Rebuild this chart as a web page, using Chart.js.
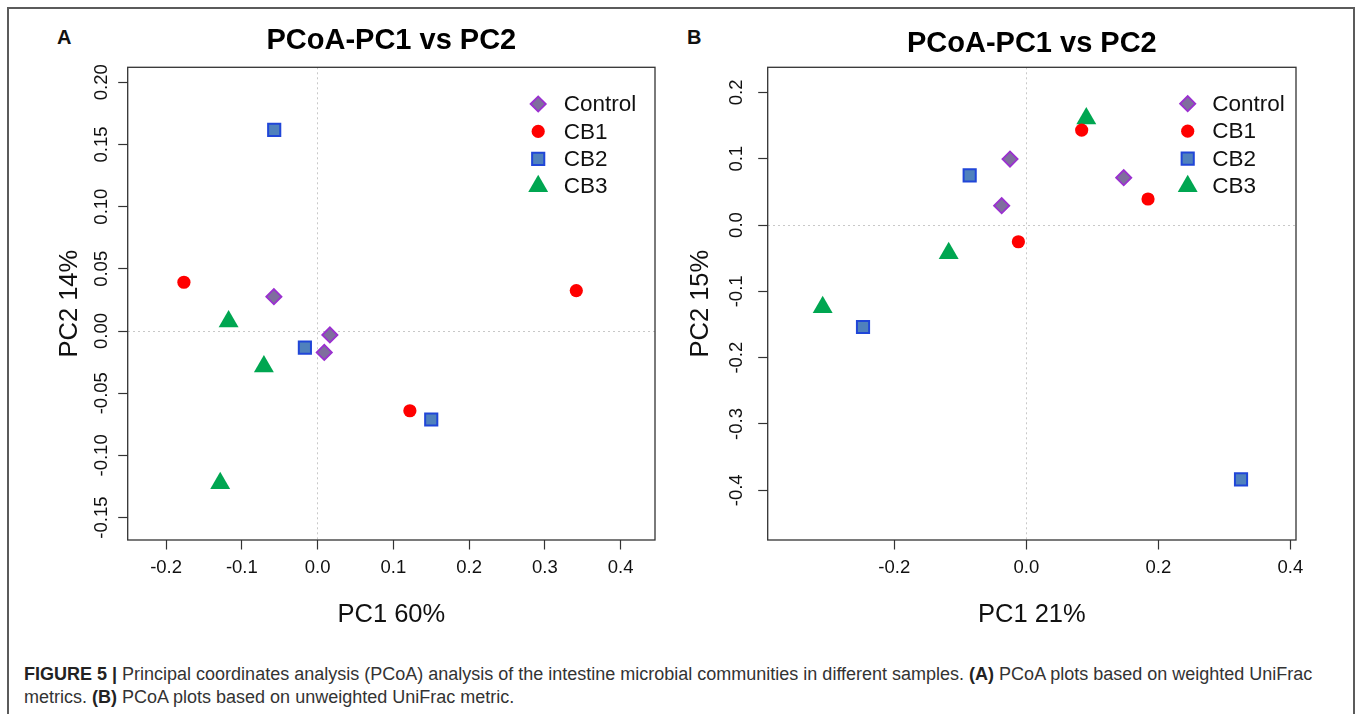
<!DOCTYPE html>
<html>
<head>
<meta charset="utf-8">
<title>PCoA-PC1 vs PC2</title>
<script src="https://cdn.jsdelivr.net/npm/chart.js@4.4.1/dist/chart.umd.min.js"></script>
<style>
html, body { margin: 0; padding: 0; background: #ffffff; }
body { width: 1357px; height: 714px; overflow: hidden; position: relative;
       font-family: "Liberation Sans", Arial, Helvetica, sans-serif; }
#frame { position: absolute; left: 7px; top: 7px; width: 1344px; height: 800px;
         border: 2px solid #5b5b5b; box-sizing: content-box; }
.panel-letter { position: absolute; font-weight: bold; font-size: 20px; line-height: 20px; color: #111; }
canvas { position: absolute; }
#caption { position: absolute; left: 24px; top: 663px; font-size: 18px; line-height: 22.6px;
           color: #333; white-space: nowrap; }
#caption b { color: #222; }
</style>
</head>
<body>
<div id="frame"></div>
<div class="panel-letter" style="left:57px; top:27px;">A</div>
<div class="panel-letter" style="left:687px; top:27px;">B</div>
<canvas id="chartA" width="672" height="632" style="left:8px; top:8px; width:672px; height:632px;"></canvas>
<canvas id="chartB" width="674" height="632" style="left:680px; top:8px; width:674px; height:632px;"></canvas>
<div id="caption"><b>FIGURE 5 |</b> Principal coordinates analysis (PCoA) analysis of the intestine microbial communities in different samples. <b>(A)</b> PCoA plots based on weighted UniFrac<br>metrics. <b>(B)</b> PCoA plots based on unweighted UniFrac metric.</div>

<script>
// ---------------- data ----------------
const groupNames = ['Control', 'CB1', 'CB2', 'CB3'];

// Panel A: weighted UniFrac (PC1 60%, PC2 14%)
const aControlPC1 = [-0.0577, 0.0162, 0.0088];
const aControlPC2 = [0.0276, -0.0032, -0.0172];
const aCB1PC1 = [-0.1765, 0.1218, 0.3415];
const aCB1PC2 = [0.0392, -0.0641, 0.0325];
const aCB2PC1 = [-0.0573, -0.0168, 0.1500];
const aCB2PC2 = [0.1617, -0.0134, -0.0711];
const aCB3PC1 = [-0.1175, -0.0709, -0.1286];
const aCB3PC2 = [0.0076, -0.0285, -0.1223];

// Panel B: unweighted UniFrac (PC1 21%, PC2 15%)
const bControlPC1 = [-0.0247, -0.0373, 0.1476];
const bControlPC2 = [0.0995, 0.0291, 0.0713];
const bCB1PC1 = [0.0839, -0.0120, 0.1844];
const bCB1PC2 = [0.1432, -0.0252, 0.0392];
const bCB2PC1 = [-0.0858, -0.2474, 0.3253];
const bCB2PC2 = [0.0749, -0.1538, -0.3834];
const bCB3PC1 = [0.0909, -0.1176, -0.3085];
const bCB3PC2 = [0.1607, -0.0424, -0.1238];

// ticks
const aXTicks = [-0.2, -0.1, 0, 0.1, 0.2, 0.3, 0.4];
const aXTickLabels = ['-0.2', '-0.1', '0.0', '0.1', '0.2', '0.3', '0.4'];
const aYTicks = [-0.15, -0.10, -0.05, 0, 0.05, 0.10, 0.15, 0.20];
const aYTickLabels = ['-0.15', '-0.10', '-0.05', '0.00', '0.05', '0.10', '0.15', '0.20'];
const bXTicks = [-0.2, 0, 0.2, 0.4];
const bXTickLabels = ['-0.2', '0.0', '0.2', '0.4'];
const bYTicks = [-0.4, -0.3, -0.2, -0.1, 0, 0.1, 0.2];
const bYTickLabels = ['-0.4', '-0.3', '-0.2', '-0.1', '0.0', '0.1', '0.2'];

// ---------------- styles ----------------
const FONT = "'Liberation Sans', Arial, Helvetica, sans-serif";
Chart.defaults.font.family = FONT;
Chart.defaults.color = '#000';

const markerStyles = [
  { pointStyle: 'rectRot',  radius: 7.6,  bg: '#7f6e9e', border: '#9b30d0', bw: 1.8 },
  { pointStyle: 'circle',   radius: 6.6,  bg: '#ff0000', border: '#ff0000', bw: 0 },
  { pointStyle: 'rect',     radius: 8.6,  bg: '#4f81bd', border: '#2046d8', bw: 2 },
  { pointStyle: 'triangle', radius: 11.5, bg: '#00a651', border: '#00a651', bw: 0 }
];

function makeDatasets(xs, ys) {
  return groupNames.map((name, g) => {
    const st = markerStyles[g];
    return {
      label: name,
      data: xs[g].map((x, i) => ({ x: x, y: ys[g][i] })),
      showLine: false,
      pointStyle: st.pointStyle,
      pointRadius: st.radius,
      pointHoverRadius: st.radius,
      pointBackgroundColor: st.bg,
      pointBorderColor: st.border,
      pointBorderWidth: st.bw,
      pointHoverBorderWidth: st.bw
    };
  });
}

function fallbackDrawPoint(ctx, o, x, y) {
  const r = o.radius;
  ctx.beginPath();
  if (o.pointStyle === 'circle') { ctx.arc(x, y, r, 0, Math.PI * 2); }
  else if (o.pointStyle === 'rect') { const s = r * Math.SQRT1_2; ctx.rect(x - s, y - s, 2 * s, 2 * s); }
  else if (o.pointStyle === 'rectRot') { ctx.moveTo(x - r, y); ctx.lineTo(x, y - r); ctx.lineTo(x + r, y); ctx.lineTo(x, y + r); ctx.closePath(); }
  else if (o.pointStyle === 'triangle') {
    let a = 0; ctx.moveTo(x + Math.sin(a) * r, y - Math.cos(a) * r);
    a += 2 * Math.PI / 3; ctx.lineTo(x + Math.sin(a) * r, y - Math.cos(a) * r);
    a += 2 * Math.PI / 3; ctx.lineTo(x + Math.sin(a) * r, y - Math.cos(a) * r);
    ctx.closePath();
  }
  ctx.fill();
  if (o.borderWidth > 0) ctx.stroke();
}

// box around the plot region (R style box())
const framePlugin = {
  id: 'rFrame',
  beforeDatasetsDraw(chart) {
    const a = chart.chartArea, ctx = chart.ctx;
    ctx.save();
    ctx.strokeStyle = '#333';
    ctx.lineWidth = 1.3;
    ctx.strokeRect(a.left, a.top, a.right - a.left, a.bottom - a.top);
    ctx.restore();
  }
};

// legend drawn inside the plot, top-right (R legend("topright"))
function legendPlugin(cfg) {
  return {
    id: 'rLegend',
    afterDatasetsDraw(chart) {
      const a = chart.chartArea, ctx = chart.ctx;
      ctx.save();
      chart.data.datasets.forEach((ds, i) => {
        const y = a.top + cfg.top + i * cfg.step;
        const mx = a.right + cfg.markerDX;
        ctx.fillStyle = ds.pointBackgroundColor;
        ctx.strokeStyle = ds.pointBorderColor;
        ctx.lineWidth = ds.pointBorderWidth;
        const opts = { pointStyle: ds.pointStyle, radius: ds.pointRadius, rotation: 0, borderWidth: ds.pointBorderWidth };
        if (Chart.helpers && Chart.helpers.drawPoint) Chart.helpers.drawPoint(ctx, opts, mx, y);
        else fallbackDrawPoint(ctx, opts, mx, y);
        ctx.fillStyle = '#111';
        ctx.font = '22.5px ' + FONT;
        ctx.textAlign = 'left';
        ctx.textBaseline = 'middle';
        ctx.fillText(ds.label, a.right + cfg.textDX, y + 1);
      });
      ctx.restore();
    }
  };
}

const zeroLineColor = (c) => (c.tick && Math.abs(c.tick.value) < 1e-9) ? '#c8c8c8' : 'rgba(0,0,0,0)';

function buildChart(canvasId, p) {
  return new Chart(document.getElementById(canvasId), {
    type: 'scatter',
    data: { datasets: makeDatasets(p.xs, p.ys) },
    options: {
      responsive: false,
      animation: false,
      devicePixelRatio: 1,
      events: [],
      layout: { padding: { left: 0, top: 0, right: p.padRight, bottom: 0 } },
      plugins: {
        legend: { display: false },
        tooltip: { enabled: false },
        title: {
          display: true,
          text: 'PCoA-PC1 vs PC2',
          fullSize: false,
          color: '#000',
          font: { size: 29, weight: 'bold', family: FONT },
          padding: { top: p.titleTop, bottom: p.titleBottom }
        }
      },
      scales: {
        x: {
          type: 'linear',
          min: p.xMin, max: p.xMax,
          afterBuildTicks: (s) => { s.ticks = p.xTicks.map(v => ({ value: v })); },
          afterFit: (s) => { s.height = 100; },
          ticks: {
            autoSkip: false, minRotation: 0, maxRotation: 0, padding: 7,
            color: '#111', font: { size: 18.5, family: FONT },
            callback: (v, i) => p.xLabels[i]
          },
          grid: {
            drawOnChartArea: true, color: zeroLineColor, lineWidth: 1,
            drawTicks: true, tickLength: 9.5, tickColor: '#333', tickWidth: 1.2, tickBorderDash: []
          },
          border: { display: false, dash: [2, 3] },
          title: {
            display: true, text: p.xTitle, color: '#111',
            font: { size: 25.5, family: FONT },
            padding: { top: 0, bottom: 10.2 }
          }
        },
        y: {
          type: 'linear',
          min: p.yMin, max: p.yMax,
          afterBuildTicks: (s) => { s.ticks = p.yTicks.map(v => ({ value: v })); },
          afterFit: (s) => { s.width = p.yAxisWidth; },
          ticks: {
            autoSkip: false, minRotation: 90, maxRotation: 90, crossAlign: 'center',
            padding: p.yTickPad,
            color: '#111', font: { size: 18.5, family: FONT },
            callback: (v, i) => p.yLabels[i]
          },
          grid: {
            drawOnChartArea: true, color: zeroLineColor, lineWidth: 1,
            drawTicks: true, tickLength: 9.5, tickColor: '#333', tickWidth: 1.2, tickBorderDash: []
          },
          border: { display: false, dash: [2, 3] },
          title: {
            display: true, text: p.yTitle, color: '#111',
            font: { size: 25.5, family: FONT },
            padding: { top: p.yTitlePad, bottom: 0 }
          }
        }
      }
    },
    plugins: [framePlugin, legendPlugin(p.legend)]
  });
}

buildChart('chartA', {
  xs: [aControlPC1, aCB1PC1, aCB2PC1, aCB3PC1],
  ys: [aControlPC2, aCB1PC2, aCB2PC2, aCB3PC2],
  xMin: -0.2507, xMax: 0.4454, yMin: -0.168, yMax: 0.212,
  xTicks: aXTicks, xLabels: aXTickLabels, yTicks: aYTicks, yLabels: aYTickLabels,
  xTitle: 'PC1 60%', yTitle: 'PC2 14%',
  padRight: 25, yAxisWidth: 119.7, yTickPad: -4.6, yTitlePad: 47.1,
  titleTop: 16, titleBottom: 8.5,
  legend: { markerDX: -116.8, textDX: -91.3, top: 36.7, step: 27.4 }
});

buildChart('chartB', {
  xs: [bControlPC1, bCB1PC1, bCB2PC1, bCB3PC1],
  ys: [bControlPC2, bCB1PC2, bCB2PC2, bCB3PC2],
  xMin: -0.3918, xMax: 0.4086, yMin: -0.4749, yMax: 0.2378,
  xTicks: bXTicks, xLabels: bXTickLabels, yTicks: bYTicks, yLabels: bYTickLabels,
  xTitle: 'PC1 21%', yTitle: 'PC2 15%',
  padRight: 58, yAxisWidth: 87.7, yTickPad: 5.6, yTitlePad: 5.2,
  titleTop: 19, titleBottom: 5.5,
  legend: { markerDX: -108.3, textDX: -83.7, top: 36.4, step: 27.5 }
});
</script>
</body>
</html>
